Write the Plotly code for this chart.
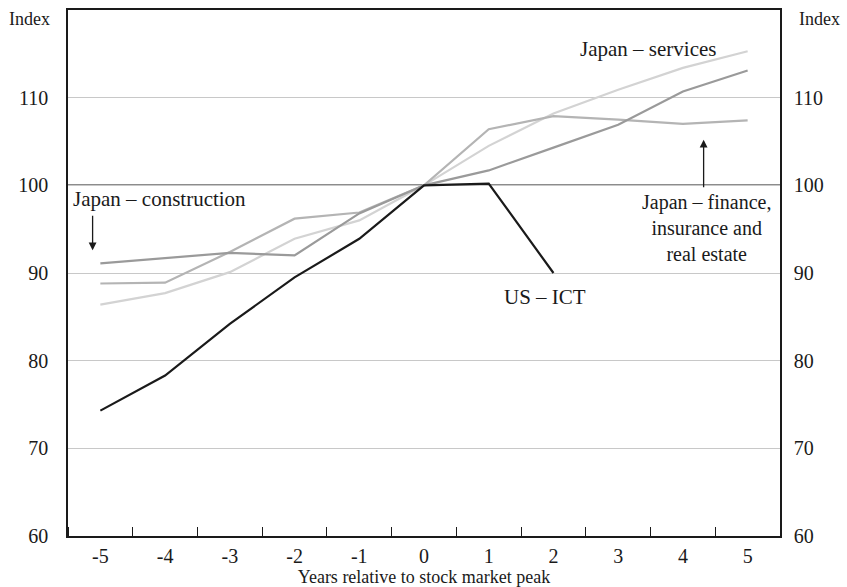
import plotly.graph_objects as go

# years relative to the stock market peak
YEARS = [-5, -4, -3, -2, -1, 0, 1, 2, 3, 4, 5]
YEAR_LABELS = ["-5", "-4", "-3", "-2", "-1", "0", "1", "2", "3", "4", "5"]

US_ICT = [74.3, 78.3, 84.2, 89.5, 93.9, 100.0, 100.2, 90.0]
JP_CONSTRUCTION = [91.1, 91.7, 92.3, 92.0, 96.8, 100.0, 101.7, 104.3, 106.9, 110.7, 113.1]
JP_FINANCE = [88.8, 88.9, 92.4, 96.2, 96.9, 100.0, 106.4, 107.9, 107.5, 107.0, 107.4]
JP_SERVICES = [86.4, 87.7, 90.1, 93.9, 96.0, 100.0, 104.5, 108.2, 110.9, 113.4, 115.3]

Y_TICKS = [60, 70, 80, 90, 100, 110]
BASE = 100

FONT = "Liberation Serif, Times New Roman, serif"
INK = "#1a1a1a"

fig = go.Figure()

series = [
    ("Japan – services", JP_SERVICES, "#d3d3d3"),
    ("Japan – finance, insurance and real estate", JP_FINANCE, "#b4b4b4"),
    ("Japan – construction", JP_CONSTRUCTION, "#9a9a9a"),
    ("US – ICT", US_ICT, INK),
]
for name, vals, color in series:
    fig.add_trace(go.Scatter(
        x=YEARS[:len(vals)], y=vals, mode="lines", name=name,
        line=dict(color=color, width=2.2), hoverinfo="skip",
    ))

# invisible trace so the right-hand axis is drawn
fig.add_trace(go.Scatter(x=YEARS[:1], y=[BASE], yaxis="y2", mode="markers",
                         marker=dict(opacity=0), hoverinfo="skip", showlegend=False))

fig.add_hline(y=BASE, line=dict(color=INK, width=1.5), layer="below")

tick_font = dict(family=FONT, size=20, color=INK)
fig.update_layout(
    width=847, height=587,
    margin=dict(l=68, r=67, t=8, b=50),
    paper_bgcolor="white", plot_bgcolor="white",
    showlegend=False,
    font=tick_font,
    xaxis=dict(
        range=[-5.5, 5.5], tickvals=YEARS, ticktext=YEAR_LABELS, ticks="",
        showgrid=False, zeroline=False,
        showline=True, linecolor=INK, linewidth=1.5, mirror=True,
        tickfont=tick_font, ticklabelstandoff=1,
        minor=dict(tickmode="linear", tick0=0.5, dtick=1, ticks="inside",
                   ticklen=9, tickcolor=INK, tickwidth=1.2, showgrid=False),
        title=dict(text="Years relative to stock market peak",
                   font=dict(family=FONT, size=18, color=INK), standoff=0),
    ),
    yaxis=dict(
        range=[60, 120], tickvals=Y_TICKS, ticks="", showgrid=True,
        gridcolor="#c8c8c8", gridwidth=1, zeroline=False,
        showline=True, linecolor=INK, linewidth=1.5,
        tickfont=tick_font, ticklabelstandoff=14,
    ),
    yaxis2=dict(
        range=[60, 120], tickvals=Y_TICKS, ticks="", showgrid=False, zeroline=False,
        overlaying="y", side="right",
        showline=True, linecolor=INK, linewidth=1.5,
        tickfont=tick_font, ticklabelstandoff=8,
    ),
)

label_font = dict(family=FONT, size=21, color=INK)
index_font = dict(family=FONT, size=18, color=INK)
fig.update_layout(annotations=[
    dict(text="Index", xref="paper", yref="paper", x=-0.085, y=0.983,
         xanchor="left", yanchor="middle", showarrow=False, font=index_font),
    dict(text="Index", xref="paper", yref="paper", x=1.024, y=0.983,
         xanchor="left", yanchor="middle", showarrow=False, font=index_font),
    dict(text="Japan – construction", xref="paper", x=0.004, y=98.4, xanchor="left",
         yanchor="middle", showarrow=False, font=label_font),
    dict(text="", x=-5.12, y=92.6, showarrow=True, ax=0, ay=-36,
         arrowhead=2, arrowsize=1.2, arrowwidth=1.3, arrowcolor=INK),
    dict(text="Japan – services", x=3.46, y=115.6, xanchor="center",
         yanchor="middle", showarrow=False, font=label_font),
    dict(text="US – ICT", x=1.87, y=87.3, xanchor="center",
         yanchor="middle", showarrow=False, font=label_font),
    dict(text="", x=4.32, y=105.2, showarrow=True, ax=0, ay=49,
         arrowhead=2, arrowsize=1.2, arrowwidth=1.3, arrowcolor=INK),
    dict(text="Japan – finance,<br>insurance and<br>real estate", x=4.36, y=95.1,
         xanchor="center", yanchor="middle", align="center", showarrow=False,
         font=dict(family=FONT, size=20, color=INK)),
])

fig.write_html("out.html", config={"displayModeBar": False},
               post_script="document.body.style.margin='0';")
